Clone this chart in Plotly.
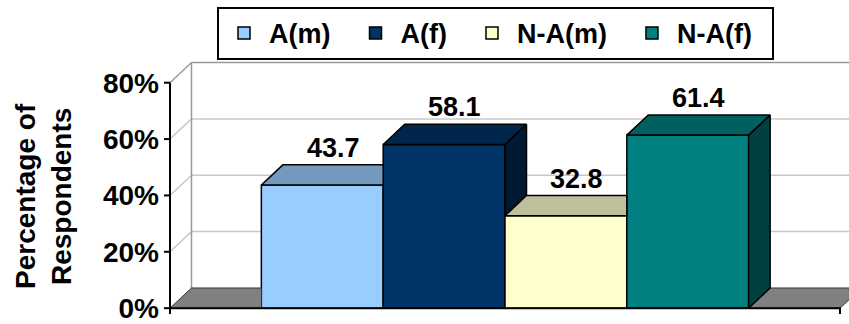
import plotly.graph_objects as go

# ---------------- data ----------------
series = ["A(m)", "A(f)", "N-A(m)", "N-A(f)"]
values = [43.7, 58.1, 32.8, 61.4]
front_colors = ["#99CCFF", "#003366", "#FFFFCC", "#008080"]
top_colors = ["#7399BF", "#00264C", "#BFBF99", "#006060"]
side_colors = ["#4D6680", "#001A33", "#808066", "#004040"]
y_ticks = [0, 20, 40, 60, 80]
y_tick_labels = ["0%", "20%", "40%", "60%", "80%"]
y_title = "Percentage of<br>Respondents"

# ---------------- geometry / style ----------------
W, H = 849, 324
PLOT_L = 160          # left edge of plotting area (px)
AXIS_PX = 170         # front value axis position (px)
FLOOR_R_PX = 840      # right end of front floor edge (px)
Y0_PX, YTOP_PX = 313, 84
DEPTH_X_PX, DEPTH_Y_PX = 21.5, 20.5
GAP_WIDTH = 1.5
TICK_PX = 6
FONT = "Liberation Sans"

n = len(series)
y_max = y_ticks[-1]
x_scale = FLOOR_R_PX - AXIS_PX
y_scale = (Y0_PX - YTOP_PX) / y_max
x_range = [-0.5 - (AXIS_PX - PLOT_L) / x_scale, 0.5 + (W - FLOOR_R_PX) / x_scale]
y_range = [-(H - Y0_PX) / y_scale, Y0_PX / y_scale]
dx = DEPTH_X_PX / x_scale
dy = DEPTH_Y_PX / y_scale
bw = 1.0 / (n + GAP_WIDTH)
lefts = [-n * bw / 2 + i * bw for i in range(n)]
rights = [l + bw for l in lefts]

fig = go.Figure()

# front faces of the bars
for i in range(n):
    fig.add_trace(go.Bar(
        x=[0], y=[values[i]], width=[bw], offset=[lefts[i]],
        name=series[i] + "\u00a0\u00a0",
        marker=dict(color=front_colors[i], line=dict(color="black", width=1.5)),
        hoverinfo="skip",
    ))


def poly(xs, ys, fill, line_color, lw, close=True):
    if close:
        xs = xs + [xs[0]]
        ys = ys + [ys[0]]
    fig.add_trace(go.Scatter(
        x=xs, y=ys, mode="lines", fill="toself", fillcolor=fill,
        line=dict(color=line_color, width=lw), showlegend=False, hoverinfo="skip",
    ))


# floor pieces (left and right of the bar block)
poly([lefts[0], -0.5 + dx, -0.5, lefts[0]], [dy, dy, 0, 0], "#808080", "#333333", 1, close=False)
poly([rights[-1], 0.5, 0.5 + dx, rights[-1] + dx], [0, 0, dy, dy], "#808080", "#333333", 1, close=False)

# side and top faces
for i in range(n):
    l, r, h = lefts[i], rights[i], values[i]
    if i == n - 1:
        poly([r, r, r + dx, r + dx], [0, h, h + dy, dy], side_colors[i], "black", 1.5)
    else:
        hn = values[i + 1]
        if hn < h:
            poly([r, r, r + dx, r + dx], [hn, h, h + dy, hn + dy], side_colors[i], "black", 1.5)
    if i < n - 1 and values[i + 1] >= h + dy:
        poly([l, r, r, l + dx], [h, h, h + dy, h + dy], top_colors[i], "black", 1.5)
    else:
        poly([l, r, r + dx, l + dx], [h, h, h + dy, h + dy], top_colors[i], "black", 1.5)

# value axis line with tick marks
tx = TICK_PX / x_scale
ax_x, ax_y = [-0.5, -0.5], [0, y_max]
for v in y_ticks:
    ax_x += [None, -0.5 - tx, -0.5]
    ax_y += [None, v, v]
fig.add_trace(go.Scatter(x=ax_x, y=ax_y, mode="lines", line=dict(color="black", width=2),
                         showlegend=False, hoverinfo="skip"))
# category axis line with end ticks
ty = TICK_PX / y_scale
fig.add_trace(go.Scatter(x=[-0.5, -0.5, 0.5, 0.5], y=[-ty, 0, 0, -ty], mode="lines",
                         line=dict(color="black", width=2), showlegend=False, hoverinfo="skip"))

# back wall / side wall lines (below everything)
shapes = []
for v in y_ticks[1:]:
    col = "#999999" if v == y_max else "#C8C8C8"
    shapes.append(dict(type="line", xref="x", yref="y", x0=-0.5, y0=v, x1=-0.5 + dx, y1=v + dy,
                       line=dict(color=col, width=1.5), layer="below"))
    shapes.append(dict(type="line", xref="x", yref="y", x0=-0.5 + dx, y0=v + dy, x1=0.5 + dx, y1=v + dy,
                       line=dict(color=col, width=1.5), layer="below"))
shapes.append(dict(type="line", xref="x", yref="y", x0=-0.5 + dx, y0=dy, x1=-0.5 + dx, y1=y_max + dy,
                   line=dict(color="#999999", width=1.5), layer="below"))

# data labels
annotations = []
for i in range(n):
    annotations.append(dict(
        x=(lefts[i] + rights[i]) / 2 + dx / 2, y=values[i] + dy, xref="x", yref="y",
        text=f"{values[i]:.1f}", showarrow=False, yanchor="bottom", xanchor="center",
        font=dict(family=FONT, size=27, color="black", weight="bold"),
    ))
annotations.append(dict(
    x=(44 - PLOT_L) / (W - PLOT_L), y=1 - 199 / H, xref="paper", yref="paper",
    text=y_title, textangle=-90, showarrow=False, xanchor="center", yanchor="middle",
    font=dict(family=FONT, size=28, color="black", weight="bold"),
))

fig.update_layout(
    width=W, height=H,
    margin=dict(l=PLOT_L, r=0, t=0, b=0),
    paper_bgcolor="white", plot_bgcolor="white",
    barmode="overlay",
    showlegend=True,
    legend=dict(
        orientation="h", x=(217 - PLOT_L) / (W - PLOT_L), y=1 - 7 / H,
        xanchor="left", yanchor="top", itemwidth=40,
        bordercolor="black", borderwidth=2, bgcolor="white",
        font=dict(family=FONT, size=27, color="black", weight="bold"),
    ),
    xaxis=dict(range=x_range, visible=False, fixedrange=True),
    yaxis=dict(
        range=y_range, tickvals=y_ticks, ticktext=y_tick_labels, ticks="",
        ticklabeloverflow="allow",
        showgrid=False, zeroline=False, showline=False, fixedrange=True,
        tickfont=dict(family=FONT, size=28, color="black", weight="bold"),
    ),
    shapes=shapes,
    annotations=annotations,
)

fig.write_html("out.html")
